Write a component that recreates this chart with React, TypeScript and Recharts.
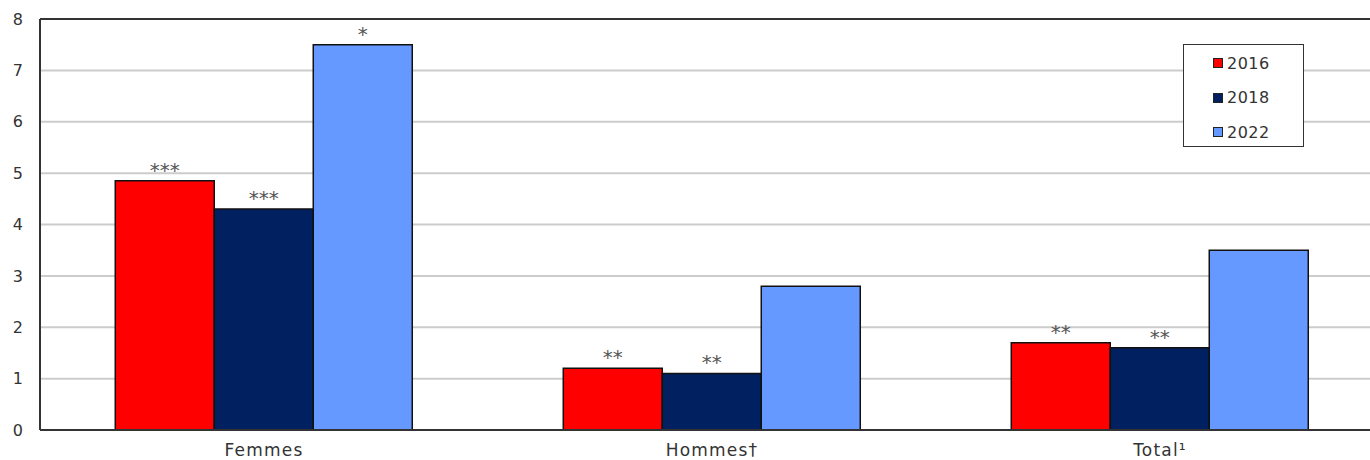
import { BarChart, Bar, XAxis, YAxis, CartesianGrid, LabelList, ReferenceLine } from "recharts";

const categories = ["Femmes", "Hommes†", "Total¹"];
const values2016 = [4.85, 1.2, 1.7];
const values2018 = [4.3, 1.1, 1.6];
const values2022 = [7.5, 2.8, 3.5];
const stars2016 = ["***", "**", "**"];
const stars2018 = ["***", "**", "**"];
const stars2022 = ["*", "", ""];
const yTicks = [0, 1, 2, 3, 4, 5, 6, 7, 8];

const series = [
  { key: "y2016", name: "2016", color: "#ff0000", stars: "s2016" },
  { key: "y2018", name: "2018", color: "#002060", stars: "s2018" },
  { key: "y2022", name: "2022", color: "#6699ff", stars: "s2022" },
];

const data = categories.map((cat, i) => ({
  cat,
  y2016: values2016[i],
  y2018: values2018[i],
  y2022: values2022[i],
  s2016: stars2016[i],
  s2018: stars2018[i],
  s2022: stars2022[i],
}));

const font = "'DejaVu Sans', Verdana, sans-serif";

// legend drawn as an overlay so it doesn't eat into the plot area
function LegendBox() {
  return (
    <div
      style={{
        position: "absolute",
        left: 1183,
        top: 44,
        width: 121,
        height: 103,
        border: "1.5px solid #333",
        background: "#fff",
        boxSizing: "border-box",
        padding: "1px 0 0 29px",
        fontFamily: font,
        fontSize: 16,
        letterSpacing: 0.5,
        color: "#333",
      }}
    >
      {series.map((s) => (
        <div key={s.key} style={{ display: "flex", alignItems: "center", height: 34.5 }}>
          <span
            style={{
              display: "inline-block",
              width: 8,
              height: 8,
              background: s.color,
              border: "1.5px solid #222",
              marginRight: 4,
            }}
          />
          {s.name}
        </div>
      ))}
    </div>
  );
}

export default function App() {
  return (
    <div
      style={{
        position: "absolute",
        top: 0,
        left: 0,
        width: 1370,
        height: 460,
        overflow: "hidden",
        background: "#fff",
      }}
    >
      <BarChart
        width={1400}
        height={460}
        data={data}
        margin={{ top: 19, right: 16, bottom: 0, left: 0 }}
        barCategoryGap="16.8%"
        barGap={0}
      >
        <CartesianGrid vertical={false} stroke="#cccccc" strokeWidth={2} />
        <XAxis
          dataKey="cat"
          height={30}
          axisLine={{ stroke: "#333", strokeWidth: 2 }}
          tickLine={false}
          tickSize={0}
          tickMargin={14}
          tick={{ fill: "#333", fontSize: 17, fontFamily: font, letterSpacing: 1.2 }}
        />
        <YAxis
          width={40}
          domain={[0, 8]}
          ticks={yTicks}
          interval={0}
          axisLine={{ stroke: "#333", strokeWidth: 2 }}
          tickLine={false}
          tickSize={0}
          tickMargin={17}
          tick={{ fill: "#333", fontSize: 16, fontFamily: font }}
        />
        <ReferenceLine y={8} stroke="#333" strokeWidth={2} />
        {series.map((s) => (
          <Bar
            key={s.key}
            dataKey={s.key}
            name={s.name}
            fill={s.color}
            stroke="#111"
            strokeWidth={1.5}
            isAnimationActive={false}
          >
            <LabelList
              dataKey={s.stars}
              position="top"
              offset={4}
              fill="#555"
              fontSize={20}
              fontFamily={font}
            />
          </Bar>
        ))}
      </BarChart>
      <LegendBox />
    </div>
  );
}
